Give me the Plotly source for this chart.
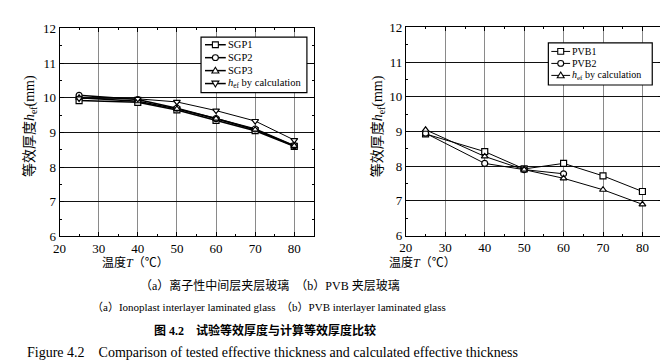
import plotly.graph_objects as go

# ---- data ----
temps = [25, 40, 50, 60, 70, 80]
sgp1 = [9.92, 9.87, 9.65, 9.35, 9.05, 8.60]
sgp2 = [10.07, 9.95, 9.70, 9.40, 9.10, 8.62]
sgp3 = [10.00, 9.90, 9.68, 9.40, 9.08, 8.61]
sgp_calc = [9.98, 9.97, 9.88, 9.63, 9.33, 8.78]

pvb_temps2 = [25, 40, 50, 60]
pvb1 = [8.93, 8.42, 7.92, 8.08, 7.72, 7.27]
pvb2 = [8.95, 8.08, 7.90, 7.78]
pvb_calc = [9.05, 8.28, 7.90, 7.65, 7.32, 6.90]

left_names = ["SGP1", "SGP2", "SGP3", "<i>h</i><sub>ef</sub> by calculation"]
left_symbols = ["square", "circle", "triangle-up", "triangle-down"]
right_names = ["PVB1", "PVB2", "<i>h</i><sub>ef</sub> by calculation"]
right_symbols = ["square", "circle", "triangle-up"]

x_ticks = [20, 30, 40, 50, 60, 70, 80]
y_ticks = [6, 7, 8, 9, 10, 11, 12]

W, H = 668, 364
FONT = "Liberation Serif, Times New Roman, Noto Sans CJK SC"
fig = go.Figure()

def px(x):
    return x / W

def py(y):
    return 1 - y / H

def add(x, y, sym, xa, ya, lw=1):
    fig.add_trace(go.Scatter(
        x=x, y=y, mode="lines+markers", showlegend=False, hoverinfo="x+y",
        line=dict(color="black", width=lw),
        marker=dict(symbol=sym, size=6, color="white", line=dict(color="black", width=1.2)),
        xaxis=xa, yaxis=ya))

add(temps, sgp1, left_symbols[0], "x", "y", 1.5)
add(temps, sgp2, left_symbols[1], "x", "y", 1.5)
add(temps, sgp3, left_symbols[2], "x", "y", 1.5)
add(temps, sgp_calc, left_symbols[3], "x", "y", 1)

add(temps, pvb1, right_symbols[0], "x2", "y2")
add(pvb_temps2, pvb2, right_symbols[1], "x2", "y2")
add(temps, pvb_calc, right_symbols[2], "x2", "y2")

xax = dict(range=[20, 85], tickvals=x_ticks, showgrid=True, gridcolor="#8a8a8a", gridwidth=1,
           showline=True, linecolor="black", linewidth=1, mirror="ticks", ticks="inside",
           ticklen=4, tickcolor="black", zeroline=False,
           minor=dict(dtick=5, ticks="inside", ticklen=2, tickcolor="black", showgrid=False),
           tickfont=dict(family=FONT, size=13, color="black"))
yax = dict(range=[6, 12], tickvals=y_ticks, showgrid=True, gridcolor="#111111", gridwidth=1,
           showline=True, linecolor="black", linewidth=1, mirror="ticks", ticks="inside",
           ticklen=4, tickcolor="black", zeroline=False,
           minor=dict(dtick=0.5, ticks="inside", ticklen=2, tickcolor="black", showgrid=False),
           tickfont=dict(family=FONT, size=13, color="black"))

fig.update_layout(
    width=W, height=H, margin=dict(l=0, r=0, t=0, b=0),
    paper_bgcolor="white", plot_bgcolor="white",
    font=dict(family=FONT, color="black"),
    xaxis=dict(domain=[px(45), px(302)], anchor="y", **xax),
    yaxis=dict(domain=[py(231), py(14)], anchor="x", **yax),
    xaxis2=dict(domain=[px(395), px(654)], anchor="y2", **xax),
    yaxis2=dict(domain=[py(230), py(13)], anchor="x2", **yax),
    showlegend=False,
)

# ---- legend boxes (drawn as layout shapes + text) ----
def legend_box(box, rows, line_x, text_x, names, symbols, lw, fsize):
    x0, y0, x1, y1 = box
    fig.add_shape(type="rect", xref="paper", yref="paper", layer="above",
                  x0=px(x0), x1=px(x1), y0=py(y0), y1=py(y1),
                  line=dict(color="black", width=1.2), fillcolor="white")
    lx0, lx1 = line_x
    cx = (lx0 + lx1) / 2
    r = 3
    for cy, name, sym in zip(rows, names, symbols):
        fig.add_shape(type="line", xref="paper", yref="paper", layer="above",
                      x0=px(lx0), x1=px(lx1), y0=py(cy), y1=py(cy),
                      line=dict(color="black", width=lw))
        mk = dict(xref="paper", yref="paper", layer="above",
                  line=dict(color="black", width=1.1), fillcolor="white")
        if sym == "square":
            fig.add_shape(type="rect", x0=px(cx - r), x1=px(cx + r), y0=py(cy - r), y1=py(cy + r), **mk)
        elif sym == "circle":
            fig.add_shape(type="circle", x0=px(cx - r), x1=px(cx + r), y0=py(cy - r), y1=py(cy + r), **mk)
        elif sym == "triangle-up":
            path = (f"M {px(cx)},{py(cy - 3.5)} L {px(cx + 3.5)},{py(cy + 2.5)} "
                    f"L {px(cx - 3.5)},{py(cy + 2.5)} Z")
            fig.add_shape(type="path", path=path, **mk)
        else:
            path = (f"M {px(cx)},{py(cy + 3.5)} L {px(cx + 3.5)},{py(cy - 2.5)} "
                    f"L {px(cx - 3.5)},{py(cy - 2.5)} Z")
            fig.add_shape(type="path", path=path, **mk)
        fig.add_annotation(x=px(text_x), y=py(cy), xref="paper", yref="paper", text=name,
                           showarrow=False, xanchor="left", yanchor="middle",
                           borderpad=0, font=dict(family=FONT, size=fsize, color="black"))

legend_box((188, 23, 295, 81), [31, 44.5, 58, 71.5], (192, 213), 214, left_names, left_symbols, 1.5, 10.5)
legend_box((539, 29, 644, 73), [38, 50.5, 63], (542, 561), 562, right_names, right_symbols, 1, 10)

ann = [
    dict(x=15, y=116, text="等效厚度<i>h</i><sub>ef</sub>(mm)", textangle=-90, size=14),
    dict(x=367, y=116, text="等效厚度<i>h</i><sub>ef</sub>(mm)", textangle=-90, size=14),
    dict(x=122, y=258, text="温度<i>T</i>（℃）", size=12),
    dict(x=412, y=258, text="温度<i>T</i>（℃）", size=12),
    dict(x=258, y=282, text="（a）离子性中间层夹层玻璃　（b）PVB 夹层玻璃", size=12),
    dict(x=257, y=305, text="（a）Ionoplast interlayer laminated glass　（b）PVB interlayer laminated glass", size=11),
    dict(x=253, y=329, text="<b>图 4.2　试验等效厚度与计算等效厚度比较</b>", size=12),
    dict(x=260, y=352, text="Figure 4.2　Comparison of tested effective thickness and calculated effective thickness", size=14),
]
for a in ann:
    fig.add_annotation(x=px(a["x"]), y=py(a["y"]), xref="paper", yref="paper", text=a["text"],
                       showarrow=False, textangle=a.get("textangle", 0),
                       font=dict(family=FONT, size=a["size"], color="black"),
                       xanchor="center", yanchor="middle")

fig.write_html("out.html")
